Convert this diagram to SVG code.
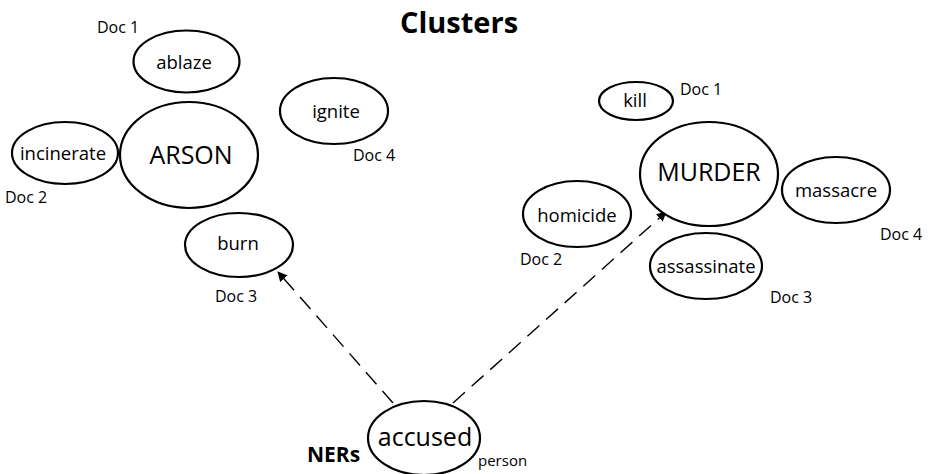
<svg xmlns="http://www.w3.org/2000/svg" width="930" height="474" viewBox="0 0 930 474">
<defs>
<style>
.n{fill:#fff;stroke:#000;stroke-width:2.2}
.t{font-family:"Open Sans","Liberation Sans",sans-serif;fill:#000;text-anchor:middle}
.w{font-size:18.5px}
.big{font-size:25px}
.doc{font-family:"Open Sans","Liberation Sans",sans-serif;font-size:16px;fill:#000}
.ner{font-family:"Open Sans","Liberation Sans",sans-serif;font-size:21px;font-weight:bold;fill:#000}
.per{font-family:"Open Sans","Liberation Sans",sans-serif;font-size:15px;fill:#000}
.c{fill:none;stroke:#000;stroke-width:1.4;stroke-dasharray:16 9}
</style>
<marker id="ah" viewBox="0 0 10 10" refX="9" refY="5" markerWidth="10" markerHeight="10" markerUnits="userSpaceOnUse" orient="auto">
<path d="M0,0 L10,5 L0,10 z" fill="#000"/>
</marker>
</defs>
<rect width="930" height="474" fill="#fff"/>
<text x="459" y="33" class="t" font-size="29" font-weight="bold">Clusters</text>
<g id="connectors">
<line class="c" x1="393" y1="403" x2="278" y2="272" marker-end="url(#ah)"/>
<line class="c" x1="453" y1="403" x2="666" y2="212" marker-end="url(#ah)"/>
</g>
<g id="ablaze"><ellipse class="n" cx="186.5" cy="61.5" rx="53" ry="31"/><text x="184" y="69" class="t w">ablaze</text><text x="97" y="33" class="doc">Doc 1</text></g>
<g id="arson"><ellipse class="n" cx="189" cy="155" rx="69" ry="53"/><text x="191" y="164" class="t big">ARSON</text></g>
<g id="incinerate"><ellipse class="n" cx="65" cy="153" rx="53" ry="31"/><text x="63" y="160" class="t w">incinerate</text><text x="5" y="203" class="doc">Doc 2</text></g>
<g id="ignite"><ellipse class="n" cx="334" cy="111" rx="54" ry="33"/><text x="336" y="118" class="t w">ignite</text><text x="353" y="161" class="doc">Doc 4</text></g>
<g id="burn"><ellipse class="n" cx="239" cy="245" rx="54" ry="32"/><text x="238" y="250" class="t w">burn</text><text x="215" y="302" class="doc">Doc 3</text></g>
<g id="kill"><ellipse class="n" cx="636" cy="101" rx="37" ry="19"/><text x="635" y="107" class="t w">kill</text><text x="680" y="95" class="doc">Doc 1</text></g>
<g id="murder"><ellipse class="n" cx="709" cy="174" rx="69" ry="52"/><text x="709" y="181" class="t big">MURDER</text></g>
<g id="massacre"><ellipse class="n" cx="836" cy="190" rx="54" ry="33"/><text x="836" y="197" class="t w">massacre</text><text x="880" y="240" class="doc">Doc 4</text></g>
<g id="homicide"><ellipse class="n" cx="577" cy="214" rx="54" ry="33"/><text x="577" y="222" class="t w">homicide</text><text x="520" y="265" class="doc">Doc 2</text></g>
<g id="assassinate"><ellipse class="n" cx="706" cy="266" rx="56" ry="33"/><text x="706" y="273" class="t w">assassinate</text><text x="770" y="303" class="doc">Doc 3</text></g>
<g id="accused"><ellipse class="n" cx="424" cy="438" rx="56" ry="37"/><text x="425" y="446" class="t big">accused</text><text x="307" y="462" class="ner">NERs</text><text x="478" y="466" class="per">person</text></g>
</svg>
